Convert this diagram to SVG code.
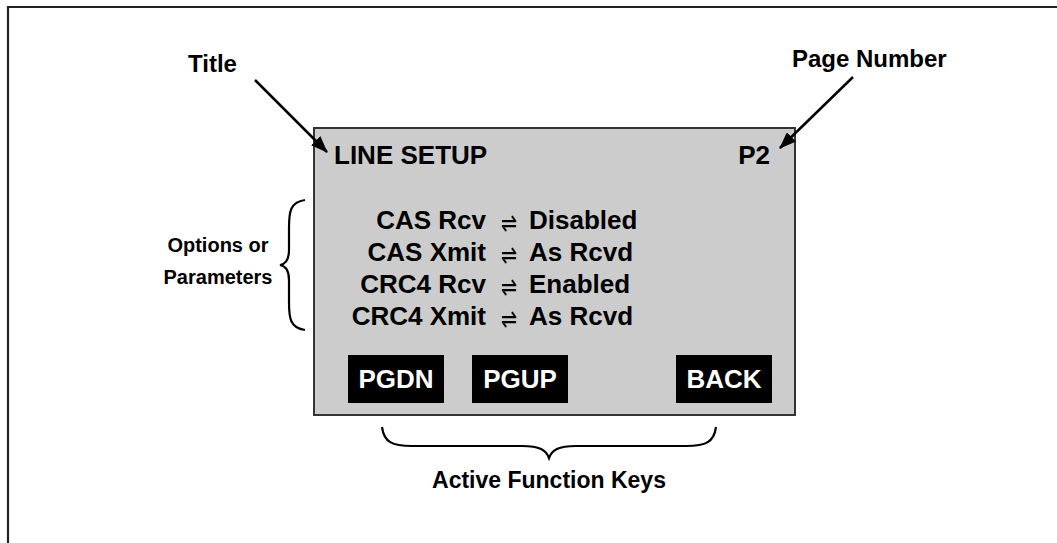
<svg xmlns="http://www.w3.org/2000/svg" width="1057" height="543" viewBox="0 0 1057 543">
  <defs>
    <marker id="arrowhead" markerWidth="17" markerHeight="13" refX="16" refY="6.5" orient="auto" markerUnits="userSpaceOnUse" viewBox="0 0 17 13">
      <path d="M0,0 L17,6.5 L0,13 Z" fill="#000"/>
    </marker>
    <style>
      .lbl { font-family: "Liberation Sans", Arial, sans-serif; font-weight: bold; font-size: 24px; fill: #000; }
      .lbl-sm { font-family: "Liberation Sans", Arial, sans-serif; font-weight: bold; font-size: 20px; fill: #000; text-anchor: middle; }
      .scr { font-family: "Liberation Sans", Arial, sans-serif; font-weight: bold; font-size: 26px; fill: #000; }
      .key { font-family: "Liberation Sans", Arial, sans-serif; font-weight: bold; font-size: 26px; fill: #fff; text-anchor: middle; }
      .sym { font-family: "DejaVu Sans", sans-serif; font-size: 27px; fill: #000; }
      .keybox { fill: #000; }
      .brace { fill: none; stroke: #000; stroke-width: 2.2; }
      .leader { stroke: #000; stroke-width: 2.5; fill: none; marker-end: url(#arrowhead); }
    </style>
  </defs>

  <rect width="1057" height="543" fill="#fff"/>

  <!-- outer frame, open to the right and bottom -->
  <path d="M8,543 V7 H1057" fill="none" stroke="#222" stroke-width="2.2"/>

  <!-- display panel -->
  <g id="display">
    <rect x="314" y="128" width="481" height="287" fill="#cccccc" stroke="#333" stroke-width="2"/>
    <text class="scr" x="334" y="164">LINE SETUP</text>
    <text class="scr" x="770" y="164" text-anchor="end">P2</text>
  </g>

  <g id="options">
    <text class="scr" x="486" y="229" text-anchor="end">CAS Rcv</text>
    <text class="scr" x="486" y="261" text-anchor="end">CAS Xmit</text>
    <text class="scr" x="486" y="293" text-anchor="end">CRC4 Rcv</text>
    <text class="scr" x="486" y="325" text-anchor="end">CRC4 Xmit</text>
    <!-- exchange marks, narrowed to the column width -->
    <text class="sym" x="501" y="232" textLength="16" lengthAdjust="spacingAndGlyphs">⇌</text>
    <text class="sym" x="501" y="264" textLength="16" lengthAdjust="spacingAndGlyphs">⇌</text>
    <text class="sym" x="501" y="296" textLength="16" lengthAdjust="spacingAndGlyphs">⇌</text>
    <text class="sym" x="501" y="328" textLength="16" lengthAdjust="spacingAndGlyphs">⇌</text>
    <text class="scr" x="529" y="229">Disabled</text>
    <text class="scr" x="529" y="261">As Rcvd</text>
    <text class="scr" x="529" y="293">Enabled</text>
    <text class="scr" x="529" y="325">As Rcvd</text>
  </g>

  <g id="key-pgdn">
    <rect class="keybox" x="348" y="355" width="96" height="48"/>
    <text class="key" x="396" y="388">PGDN</text>
  </g>
  <g id="key-pgup">
    <rect class="keybox" x="472" y="355" width="96" height="48"/>
    <text class="key" x="520" y="388">PGUP</text>
  </g>
  <g id="key-back">
    <rect class="keybox" x="676" y="355" width="96" height="48"/>
    <text class="key" x="724" y="388">BACK</text>
  </g>

  <!-- callout labels -->
  <g id="label-title">
    <text class="lbl" x="188" y="72">Title</text>
  </g>
  <g id="label-page">
    <text class="lbl" x="792" y="67">Page Number</text>
  </g>
  <g id="label-options">
    <text class="lbl-sm" x="218" y="252">Options or</text>
    <text class="lbl-sm" x="218" y="284">Parameters</text>
  </g>
  <g id="label-keys">
    <text class="lbl" x="549" y="488" text-anchor="middle" style="font-size:23px">Active Function Keys</text>
  </g>

  <!-- connectors: leader arrows and braces -->
  <g id="connectors">
    <line class="leader" x1="255" y1="80" x2="327" y2="152"/>
    <line class="leader" x1="853" y1="77" x2="780" y2="148"/>
    <path class="brace" d="M305,200 C290,202 289,212 289,228 L289,250 C289,260 286,264 280,265 C286,266 289,270 289,280 L289,302 C289,318 290,328 305,330"/>
    <path class="brace" d="M382,427 C384,442 392,446 412,446 L522,446 C540,446 546,450 549,458 C552,450 558,446 576,446 L686,446 C706,446 714,442 716,427"/>
  </g>
</svg>
